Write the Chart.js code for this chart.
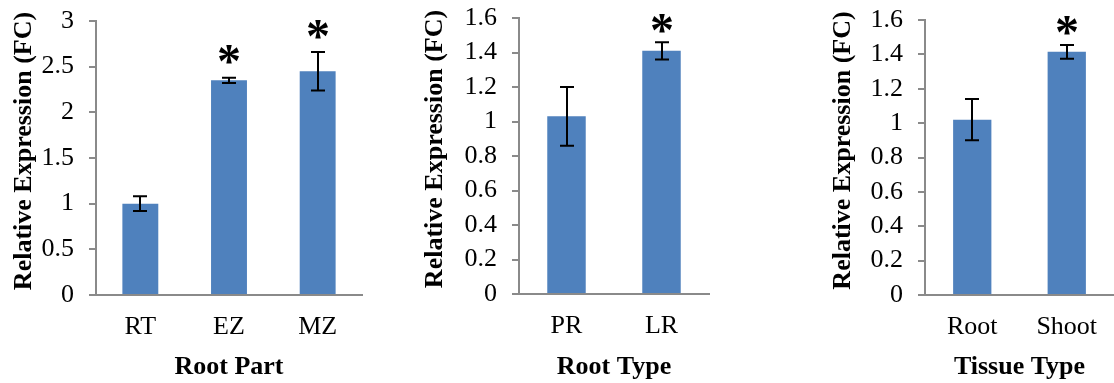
<!DOCTYPE html>
<html>
<head>
<meta charset="utf-8">
<script src="https://cdn.jsdelivr.net/npm/chart.js@4.4.0/dist/chart.umd.min.js"></script>
<style>
  html, body { margin: 0; padding: 0; background: #fff; }
  body { width: 1114px; height: 383px; position: relative; overflow: hidden; }
  canvas { position: absolute; top: 0; }
</style>
</head>
<body>
<canvas id="rootPart" width="370" height="383" style="left:0px"></canvas>
<canvas id="rootType" width="305" height="383" style="left:412px"></canvas>
<canvas id="tissueType" width="294" height="383" style="left:820px"></canvas>
<script>
// Root part panel
const rootPartLabels = ['RT', 'EZ', 'MZ'];
const rootPartMeans = [1.00, 2.35, 2.45];
const rootPartErrors = [0.08, 0.03, 0.21];
const rootPartSignificant = [false, true, true];
const rootPartTicks = [0, 0.5, 1, 1.5, 2, 2.5, 3];

// Root type panel
const rootTypeLabels = ['PR', 'LR'];
const rootTypeMeans = [1.03, 1.41];
const rootTypeErrors = [0.17, 0.05];
const rootTypeSignificant = [false, true];
const rootTypeTicks = [0, 0.2, 0.4, 0.6, 0.8, 1, 1.2, 1.4, 1.6];

// Tissue type panel
const tissueTypeLabels = ['Root', 'Shoot'];
const tissueTypeMeans = [1.02, 1.415];
const tissueTypeErrors = [0.12, 0.04];
const tissueTypeSignificant = [false, true];
const tissueTypeTicks = [0, 0.2, 0.4, 0.6, 0.8, 1, 1.2, 1.4, 1.6];

const Y_TITLE = 'Relative Expression (FC)';
const SERIF = '"Liberation Serif", "Times New Roman", Times, serif';
const AXIS_GREY = '#8a8a8a';
const BAR_BLUE = '#4F81BD';

// Error bars with caps, plus an asterisk over significant bars
const errorBarPlugin = {
  id: 'errorBars',
  afterDatasetsDraw(chart, args, opts) {
    const ctx = chart.ctx;
    const yScale = chart.scales.y;
    const meta = chart.getDatasetMeta(0);
    const values = chart.data.datasets[0].data;
    ctx.save();
    ctx.strokeStyle = '#000';
    ctx.lineWidth = 2;
    meta.data.forEach((bar, i) => {
      const v = values[i];
      const e = opts.errors[i];
      const x = Math.round(bar.x);
      const top = yScale.getPixelForValue(v + e);
      const bot = yScale.getPixelForValue(v - e);
      const cap = 7;
      ctx.beginPath();
      ctx.moveTo(x, top); ctx.lineTo(x, bot);
      ctx.moveTo(x - cap, top); ctx.lineTo(x + cap, top);
      ctx.moveTo(x - cap, bot); ctx.lineTo(x + cap, bot);
      ctx.stroke();
      if (opts.significant[i]) {
        ctx.fillStyle = '#000';
        ctx.font = 'bold ' + opts.starSize + 'px ' + SERIF;
        ctx.textAlign = 'center';
        ctx.textBaseline = 'alphabetic';
        const m = ctx.measureText('*');
        const cy = top - opts.starGap;
        const baseY = cy + (m.actualBoundingBoxAscent - m.actualBoundingBoxDescent) / 2;
        ctx.fillText('*', x, baseY);
      }
    });
    ctx.restore();
  }
};

// Rotated value-axis title, set slightly above the middle of the axis
const yTitlePlugin = {
  id: 'yTitle',
  afterDraw(chart, args, opts) {
    const ctx = chart.ctx;
    const area = chart.chartArea;
    ctx.save();
    ctx.translate(opts.x, (area.top + area.bottom) / 2 - opts.lift);
    ctx.rotate(-Math.PI / 2);
    ctx.fillStyle = '#000';
    ctx.font = 'bold 26px ' + SERIF;
    ctx.textAlign = 'center';
    ctx.textBaseline = 'middle';
    ctx.fillText(opts.text, 0, 0);
    ctx.restore();
  }
};

function drawPanel(id, labels, means, errors, significant, ticks, cfg) {
  const canvas = document.getElementById(id);
  return new Chart(canvas, {
    type: 'bar',
    data: {
      labels: labels,
      datasets: [{
        data: means,
        backgroundColor: BAR_BLUE,
        borderWidth: 0,
        categoryPercentage: 1,
        barPercentage: 0.405
      }]
    },
    plugins: [errorBarPlugin, yTitlePlugin],
    options: {
      responsive: false,
      animation: false,
      devicePixelRatio: 1,
      layout: { padding: { top: cfg.top, right: cfg.right, left: 0, bottom: 0 } },
      plugins: {
        legend: { display: false },
        tooltip: { enabled: false },
        errorBars: {
          errors: errors,
          significant: significant,
          starSize: 48,
          starGap: cfg.starGap
        },
        yTitle: { text: Y_TITLE, x: cfg.titleX, lift: 7 }
      },
      scales: {
        x: {
          afterFit: s => {
            s.height = canvas.height - cfg.bottom;
            s.paddingLeft = 0;
            s.paddingRight = 0;
          },
          grid: { display: false, drawTicks: false },
          border: { display: true, color: AXIS_GREY, width: 2 },
          ticks: {
            color: '#000',
            font: { family: SERIF, size: 26 },
            padding: 17,
            maxRotation: 0
          },
          title: {
            display: true,
            text: cfg.xTitle,
            color: '#000',
            font: { family: SERIF, size: 26, weight: 'bold' },
            padding: { top: 0, bottom: 0 }
          }
        },
        y: {
          min: 0,
          max: ticks[ticks.length - 1],
          afterBuildTicks: s => { s.ticks = ticks.map(v => ({ value: v })); },
          afterFit: s => {
            s.width = cfg.yWidth;
            s.paddingTop = 0;
            s.paddingBottom = 0;
          },
          grid: {
            drawOnChartArea: false,
            drawTicks: true,
            tickLength: 7,
            color: AXIS_GREY,
            lineWidth: 2
          },
          border: { display: true, color: AXIS_GREY, width: 2 },
          ticks: {
            color: '#000',
            font: { family: SERIF, size: 26 },
            padding: 15,
            autoSkip: false,
            callback: v => String(v)
          }
        }
      }
    }
  });
}

drawPanel('rootPart', rootPartLabels, rootPartMeans, rootPartErrors, rootPartSignificant, rootPartTicks,
  { top: 21, bottom: 295, right: 8, yWidth: 96, titleX: 24, starGap: 23, xTitle: 'Root Part' });
drawPanel('rootType', rootTypeLabels, rootTypeMeans, rootTypeErrors, rootTypeSignificant, rootTypeTicks,
  { top: 18, bottom: 294, right: 8, yWidth: 107, titleX: 23, starGap: 19, xTitle: 'Root Type' });
drawPanel('tissueType', tissueTypeLabels, tissueTypeMeans, tissueTypeErrors, tissueTypeSignificant, tissueTypeTicks,
  { top: 20, bottom: 295, right: 0, yWidth: 105, titleX: 23, starGap: 19, xTitle: 'Tissue Type' });
</script>
</body>
</html>
